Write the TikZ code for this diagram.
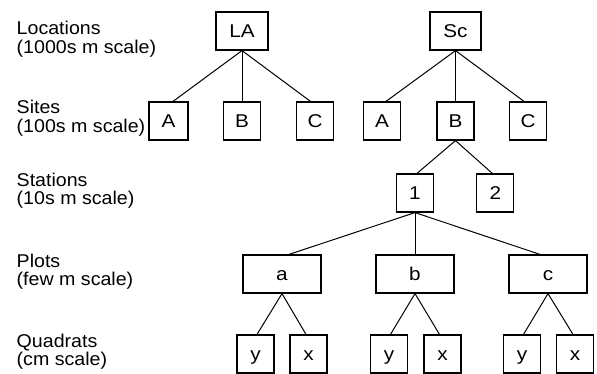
\documentclass[tikz,border=0pt]{standalone}
\usepackage{fontspec}
\setmainfont{Liberation Sans}[FakeStretch=1.12]
\newfontfamily\lblfont{Liberation Sans}[FakeStretch=1.06]
\begin{document}
\begin{tikzpicture}[x=1pt,y=-1pt,
  every node/.style={font=\fontsize{18.5}{18.3}\selectfont},
  box/.style={draw,line width=1.2pt,inner sep=0pt,minimum height=38pt,text height=13.2pt,text depth=0pt},
  sbox/.style={box,minimum width=37pt},
  wbox/.style={box,minimum width=52pt},
  pbox/.style={box,minimum width=78pt},
  lvl/.style={anchor=base west,align=left,inner sep=0pt,font=\lblfont\fontsize{18.5}{18.3}\selectfont},
  link/.style={line width=1pt}]
\useasboundingbox (0,0) rectangle (597,374);
% level labels (anchored at the baseline of the second line)
\node[lvl] (l1) at (16.5,53.3) {Locations\\(1000s m scale)};
\node[lvl] (l2) at (16.5,132.3) {Sites\\(100s m scale)};
\node[lvl] (l3) at (16.5,204.7) {Stations\\(10s m scale)};
\node[lvl] (l4) at (16.5,285.3) {Plots\\(few m scale)};
\node[lvl] (l5) at (16.5,365.3) {Quadrats\\(cm scale)};
% locations
\node[wbox] (LA) at (242,31) {LA};
\node[wbox,minimum width=51pt] (Sc) at (455.5,31) {Sc};
% sites
\node[sbox,minimum width=39pt] (LAa) at (168.5,121) {A};
\node[sbox] (LAb) at (242,121) {B};
\node[sbox] (LAc) at (315,121) {C};
\node[sbox] (Sca) at (382,121) {A};
\node[sbox] (Scb) at (455.5,121) {B};
\node[sbox] (Scc) at (528,121) {C};
% stations
\node[sbox] (s1) at (415,193) {1};
\node[sbox] (s2) at (495.3,193) {2};
% plots
\node[pbox] (pa) at (282,274) {a};
\node[pbox] (pb) at (415,274) {b};
\node[pbox] (pc) at (548,274) {c};
% quadrats
\node[sbox] (ay) at (255.5,354) {y};
\node[sbox] (ax) at (308.5,354) {x};
\node[sbox] (by) at (389,354) {y};
\node[sbox] (bx) at (442.5,354) {x};
\node[sbox] (cy) at (522,354) {y};
\node[sbox] (cx) at (575,354) {x};
% connectors
\draw[link] (LA.south) -- ([xshift=4.5pt]LAa.north);
\draw[link] (LA.south) -- (LAb.north);
\draw[link] (LA.south) -- ([xshift=-4.5pt]LAc.north);
\draw[link] (Sc.south) -- ([xshift=4pt]Sca.north);
\draw[link] (Sc.south) -- (Scb.north);
\draw[link] (Sc.south) -- ([xshift=-4pt]Scc.north);
\draw[link] (Scb.south) -- ([xshift=2pt]s1.north);
\draw[link] (Scb.south) -- ([xshift=-3pt]s2.north);
\draw[link] (s1.south) -- ([xshift=7pt]pa.north);
\draw[link] (s1.south) -- (pb.north);
\draw[link] (s1.south) -- ([xshift=-8pt]pc.north);
\draw[link] (pa.south) -- ([xshift=1.5pt]ay.north);
\draw[link] (pa.south) -- ([xshift=-2.5pt]ax.north);
\draw[link] (pb.south) -- ([xshift=1.5pt]by.north);
\draw[link] (pb.south) -- ([xshift=-3pt]bx.north);
\draw[link] (pc.south) -- ([xshift=1.5pt]cy.north);
\draw[link] (pc.south) -- ([xshift=-2pt]cx.north);
\end{tikzpicture}
\end{document}
